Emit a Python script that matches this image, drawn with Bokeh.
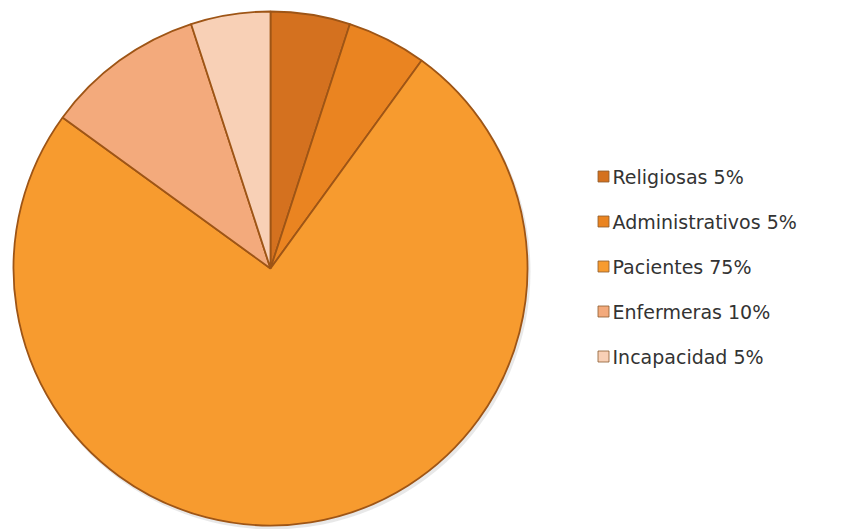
import math
from bokeh.plotting import figure
from bokeh.models import ColumnDataSource, Range1d
from bokeh.core.properties import value
from bokeh.embed import file_html
from bokeh.resources import INLINE

categories = ["Religiosas", "Administrativos", "Pacientes", "Enfermeras", "Incapacidad"]
percents = [5, 5, 75, 10, 5]
labels = ["Religiosas  5%", "Administrativos 5%", "Pacientes 75%", "Enfermeras 10%", "Incapacidad 5%"]
colors = ["#D4711F", "#EA8421", "#F79B2F", "#F3AA7C", "#F8D0B6"]

W, H = 863, 529
cx, cy, r = 270, 529 - 268, 257

total = sum(percents)
starts, ends = [], []
cum = 0.0
for v in percents:
    c0 = cum / total
    cum += v
    c1 = cum / total
    starts.append(math.pi / 2 - 2 * math.pi * c1)
    ends.append(math.pi / 2 - 2 * math.pi * c0)

src = ColumnDataSource(dict(x=[cx] * len(percents), y=[cy] * len(percents),
                            start=starts, end=ends, color=colors, cat=categories))

p = figure(width=W, height=H, output_backend="svg", toolbar_location=None,
           x_range=Range1d(0, W), y_range=Range1d(0, H), min_border=0,
           background_fill_color="white", border_fill_color="white")
p.axis.visible = False
p.grid.visible = False
p.outline_line_color = None

# soft shadow
p.circle(x=[cx + 2], y=[cy - 3], radius=r + 1, fill_color="#D9D9D9", fill_alpha=0.6, line_color=None)

p.wedge(x="x", y="y", radius=r, start_angle="start", end_angle="end",
        fill_color="color", line_color="#9E5516", line_width=1.8, source=src)

# legend
ly = [H - 176, H - 221, H - 266, H - 311, H - 356]
p.rect(x=[603] * 5, y=ly, width=11, height=11, fill_color=colors,
       line_color="#8C5A2E", line_width=0.8)
p.text(x=[612] * 5, y=ly, text=labels, text_font=value("DejaVu Sans"),
       text_font_size="19px", text_color="#333333", text_baseline="middle",
       text_align="left")

open("out.html", "w").write(file_html(p, INLINE))
